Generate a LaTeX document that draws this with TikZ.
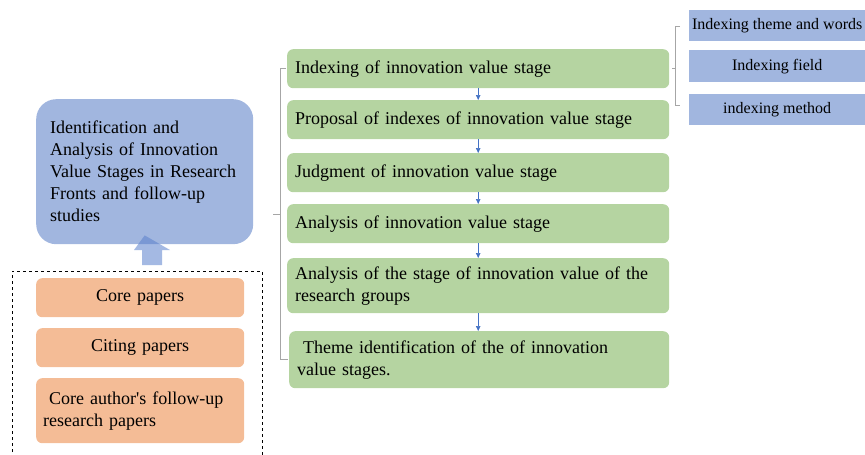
\documentclass[tikz,border=0pt]{standalone}
\usepackage{fontspec}
\setmainfont{Liberation Serif}
\usetikzlibrary{arrows.meta,positioning,calc}
\definecolor{stagegreen}{HTML}{B5D4A1}
\definecolor{frontblue}{HTML}{A1B6DF}
\definecolor{paperorange}{HTML}{F4BC96}
\definecolor{linkblue}{HTML}{4472C4}
\definecolor{liftblue}{HTML}{5A80CC}
\begin{document}
\begin{tikzpicture}[x=1pt,y=-1pt,font=\fontsize{18}{22}\selectfont,
    stage/.style={fill=stagegreen,rounded corners=6pt,anchor=north west,text width=366pt,inner xsep=8pt,inner ysep=2pt,align=left},
    paper/.style={fill=paperorange,rounded corners=6pt,anchor=north west,text width=194pt,inner xsep=7pt,inner ysep=2pt},
    index/.style={fill=frontblue,anchor=north west,minimum width=176pt,inner sep=2pt,font=\fontsize{16}{19}\selectfont},
    flow/.style={linkblue,line width=0.6pt,-{Triangle[length=5pt,width=4.5pt]}},
    bracket/.style={black!35,line width=0.8pt}]
    \useasboundingbox (0,0) rectangle (865,455);
    \node[fill=frontblue,rounded corners=20pt,anchor=north west,minimum height=145pt,text width=189pt,inner xsep=14pt,align=left] (front) at (36,99) {Identification and\\Analysis of Innovation\\Value Stages in Research\\Fronts and follow-up\\studies};
    \coordinate (lift) at (152,265);
    \fill[liftblue,fill opacity=0.55] ([xshift=-10pt]lift) -- ([xshift=-10pt,yshift=15pt]lift) -- ([xshift=-18pt,yshift=15pt]lift) -- ([yshift=9pt]front.south) -- ([xshift=18pt,yshift=15pt]lift) -- ([xshift=10pt,yshift=15pt]lift) -- ([xshift=10pt]lift) -- cycle;
    \draw[dashed,line width=0.7pt] (12,458) |- (262,271) -- (262,458);
    \node[paper,minimum height=39pt,align=center] (p1) at (36,278) {Core papers};
    \node[paper,minimum height=39pt,align=center] (p2) at (36,328) {Citing papers};
    \node[paper,minimum height=65pt,align=left] (p3) at (36,378) {\ Core author\textquotesingle s follow-up\\research papers};
    \node[stage,minimum height=39pt] (s1) at (287,49) {Indexing of innovation value stage};
    \node[stage,minimum height=39pt] (s2) at (287,100) {Proposal of indexes of innovation value stage};
    \node[stage,minimum height=39pt] (s3) at (287,153) {Judgment of innovation value stage};
    \node[stage,minimum height=39pt] (s4) at (287,204) {Analysis of innovation value stage};
    \node[stage,minimum height=55pt] (s5) at (287,258) {Analysis of the stage of innovation value of the\\research groups};
    \node[stage,minimum height=57pt,text width=364pt] (s6) at (289,331) {\ Theme identification of the of innovation\\value stages.};
    \foreach \a/\b in {s1/s2,s2/s3,s3/s4,s4/s5,s5/s6}
        \draw[flow] (\a.south) -- (\a.south |- \b.north);
    \node[index,minimum height=31pt] (k1) at (689,10) {Indexing theme and words};
    \node[index,minimum height=32pt] (k2) at (689,50) {Indexing field};
    \node[index,minimum height=31pt] (k3) at (689,94) {indexing method};
    \draw[bracket] ([xshift=-1pt]s1.west) -- ++(-6,0) coordinate (lb) |- ([xshift=-1pt]s6.west);
    \draw[bracket] ($(lb)!0.5!(lb |- s6.west)$) -- ++(-7,0);
    \draw[bracket] ([xshift=-9pt,yshift=-1pt]k1.west) -- ++(-5,0) coordinate (rb) |- ([xshift=-9pt,yshift=4pt]k3.west);
    \draw[bracket] (rb |- s1.east) -- ++(-3,0);
\end{tikzpicture}
\end{document}
